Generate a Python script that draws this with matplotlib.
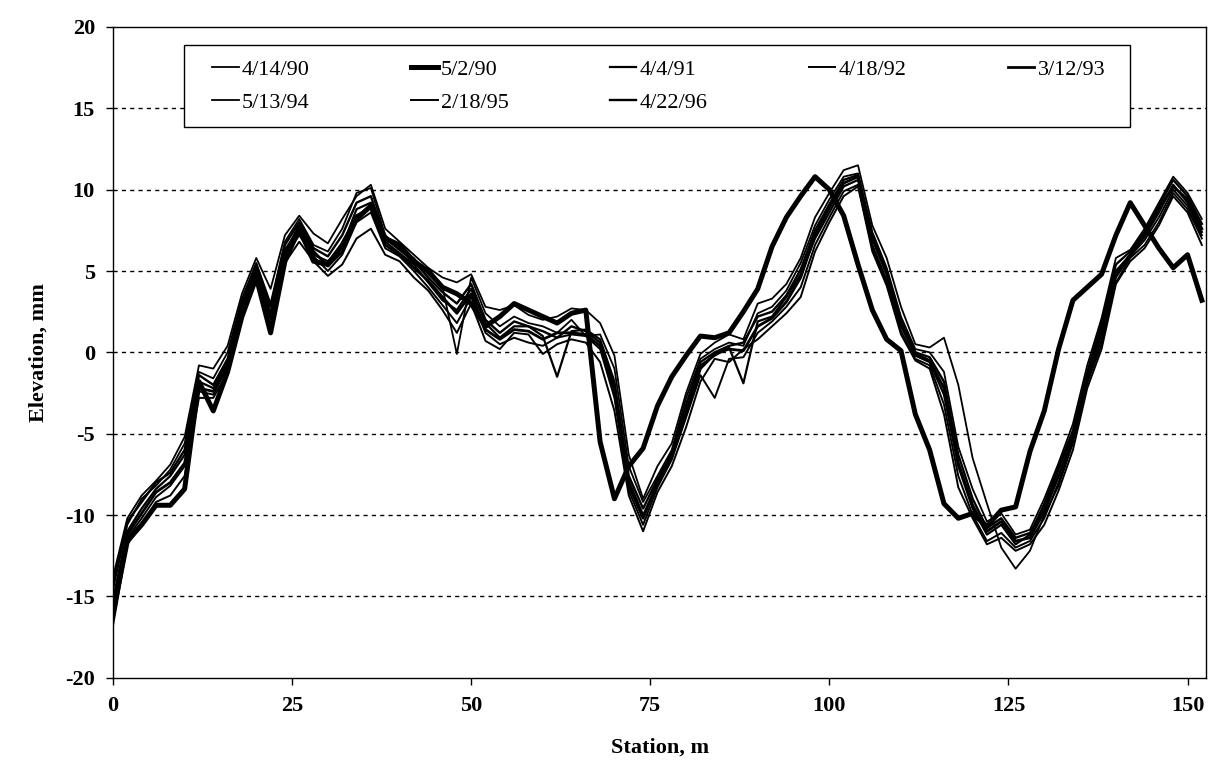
import numpy as np
import matplotlib.pyplot as plt
from matplotlib.patches import Rectangle

plt.rcParams['font.family'] = ['Liberation Serif', 'DejaVu Serif']
plt.rcParams['axes.unicode_minus'] = False

# station, m (2 m step)
station = np.arange(0, 153, 2)

# elevation profiles, mm
s_041490 = [-13.8, -10.2, -8.8, -7.9, -6.9, -5.2, -0.8, -1.0, 0.4, 3.6,
            5.8, 3.9, 7.2, 8.4, 7.3, 6.7, 8.2, 9.6, 10.3, 7.6,
            6.8, 6.0, 5.2, 4.6, 4.3, 4.8, 2.8, 2.6, 2.9, 2.3,
            2.0, 2.2, 2.7, 2.6, 1.8, -0.2, -6.3, -9.0, -7.0, -5.6,
            -2.5, -0.1, 0.6, 1.1, 0.8, 3.0, 3.3, 4.2, 5.8, 8.3,
            9.8, 11.2, 11.5, 7.8, 5.8, 2.8, 0.5, 0.3, 0.9, -2.0,
            -6.5, -9.3, -12.0, -13.3, -12.2, -10.0, -8.2, -5.6, -1.8, 0.8,
            4.3, 5.8, 6.6, 8.0, 9.8, 8.8, 7.0]
s_050290 = [-16.0, -11.6, -10.6, -9.4, -9.4, -8.4, -1.8, -3.6, -1.2, 2.2,
            4.6, 1.2, 5.6, 7.6, 5.6, 5.4, 6.6, 8.2, 9.0, 7.0,
            6.6, 5.6, 5.0, 4.0, 3.6, 3.0, 1.6, 2.2, 3.0, 2.6,
            2.2, 1.8, 2.4, 2.6, -5.5, -9.0, -7.0, -5.9, -3.3, -1.5,
            -0.2, 1.0, 0.9, 1.2, 2.5, 3.9, 6.5, 8.3, 9.6, 10.8,
            10.0, 8.4, 5.4, 2.6, 0.8, 0.1, -3.8, -6.0, -9.3, -10.2,
            -9.9, -10.7, -9.7, -9.5, -6.1, -3.6, 0.2, 3.2, 4.0, 4.8,
            7.2, 9.2, 7.8, 6.4, 5.2, 6.0, 3.2]
s_040491 = [-15.2, -11.0, -9.6, -8.4, -7.6, -6.3, -1.8, -2.2, -0.6, 2.9,
            5.2, 2.4, 6.3, 7.6, 6.0, 5.6, 6.5, 8.8, 9.2, 6.8,
            6.1, 5.4, 4.3, 3.2, 2.6, 3.9, 1.8, 0.9, 1.6, 1.6,
            1.0, -1.5, 1.3, 1.4, 0.8, -1.8, -7.9, -10.0, -8.1, -6.3,
            -3.6, -0.8, -0.2, 0.3, -1.9, 1.9, 2.2, 3.4, 4.8, 7.0,
            8.6, 10.2, 10.6, 6.6, 4.4, 1.6, -0.2, -0.6, -2.6, -7.0,
            -9.6, -11.2, -10.6, -11.8, -11.2, -9.3, -7.0, -4.8, -1.4, 1.5,
            5.0, 6.0, 7.1, 8.6, 10.3, 9.2, 7.4]
s_041892 = [-16.8, -11.8, -10.6, -9.2, -8.8, -7.6, -2.8, -2.8, -1.2, 2.4,
            4.6, 1.6, 5.5, 6.8, 5.6, 4.7, 5.4, 7.0, 7.6, 6.0,
            5.6, 4.6, 3.8, 2.6, 1.2, 3.0, 0.7, 0.2, 1.2, 1.1,
            -0.1, 0.5, 0.8, 0.6, -0.6, -3.6, -8.8, -11.0, -8.6, -7.0,
            -4.6, -1.8, -0.4, -0.6, 0.2, 0.8, 1.6, 2.4, 3.4, 6.2,
            8.0, 9.6, 10.2, 6.2, 4.1, 1.1, -0.5, -1.0, -3.8, -8.3,
            -10.2, -11.8, -11.4, -12.2, -11.8, -10.6, -8.5, -6.0, -2.2, 0.2,
            4.2, 5.6, 6.4, 7.8, 9.6, 8.6, 6.6]
s_031293 = [-15.6, -11.2, -9.9, -8.6, -8.0, -6.8, -2.2, -2.4, -0.8, 2.8,
            5.0, 2.2, 6.1, 7.8, 6.2, 5.3, 6.2, 8.4, 8.9, 6.6,
            6.0, 5.2, 4.4, 3.4, 2.4, 3.6, 1.4, 0.8, 1.4, 1.3,
            0.8, 1.2, 1.2, 1.1, 0.4, -2.4, -8.2, -10.2, -8.0, -6.4,
            -3.8, -1.0, -0.1, 0.2, 0.1, 1.6, 2.1, 3.1, 4.6, 7.2,
            8.9, 10.4, 10.8, 7.0, 4.8, 1.8, -0.1, -0.5, -2.2, -6.8,
            -9.4, -11.0, -10.4, -11.6, -11.4, -9.8, -7.6, -5.2, -1.6, 1.2,
            4.8, 6.0, 7.2, 8.8, 10.2, 9.4, 7.6]
s_051394 = [-14.6, -10.6, -9.0, -8.2, -7.2, -5.6, -1.2, -1.6, 0.0, 3.3,
            5.5, 3.0, 6.8, 8.2, 6.6, 6.2, 7.6, 9.8, 10.1, 7.2,
            6.4, 5.8, 4.8, 4.0, -0.1, 4.6, 2.4, 1.6, 2.2, 1.8,
            1.6, 1.2, 2.0, 1.0, 1.1, -1.0, -7.0, -9.2, -7.6, -6.0,
            -2.8, -0.4, 0.2, 0.6, 0.4, 2.4, 2.8, 3.8, 5.5, 7.8,
            9.4, 10.8, 11.0, 7.4, 5.2, 2.2, 0.2, 0.0, -1.2, -5.8,
            -8.4, -10.4, -9.9, -11.2, -10.9, -9.0, -6.8, -4.4, -0.8, 2.1,
            5.8, 6.3, 7.6, 9.2, 10.8, 9.8, 8.2]
s_021895 = [-16.2, -11.4, -10.2, -8.9, -8.2, -7.0, -2.4, -2.6, -0.9, 2.6,
            4.9, 2.0, 5.9, 7.2, 5.9, 5.0, 6.0, 8.0, 8.6, 6.4,
            5.9, 5.0, 4.0, 2.9, 1.8, 3.4, 1.2, 0.5, 0.9, 0.6,
            0.4, 0.9, 1.1, 1.0, 0.2, -2.8, -8.5, -10.6, -8.3, -6.6,
            -4.0, -1.4, -2.8, -0.4, -0.3, 1.2, 1.9, 2.8, 4.0, 6.6,
            8.3, 9.9, 10.3, 6.4, 4.2, 1.3, -0.4, -0.8, -3.2, -7.6,
            -10.0, -11.6, -11.1, -12.0, -11.6, -10.2, -8.0, -5.4, -1.9, 0.5,
            4.6, 5.9, 6.9, 8.3, 10.0, 9.0, 7.2]
s_042296 = [-14.2, -10.4, -9.2, -8.0, -7.4, -6.0, -1.4, -2.0, -0.4, 3.0,
            5.4, 2.8, 6.6, 8.0, 6.4, 5.9, 7.2, 9.2, 9.6, 7.0,
            6.3, 5.6, 4.6, 3.7, 3.0, 4.2, 2.0, 1.2, 1.9, 1.6,
            1.3, 0.9, 1.6, 1.3, 0.6, -2.0, -7.6, -9.6, -7.8, -6.2,
            -3.2, -0.6, 0.0, 0.4, 0.6, 2.2, 2.5, 3.5, 5.1, 7.5,
            9.1, 10.6, 10.9, 7.2, 5.0, 2.0, 0.0, -0.3, -1.8, -6.3,
            -9.0, -10.8, -10.2, -11.4, -11.1, -9.6, -7.2, -4.9, -1.2, 1.8,
            5.4, 6.2, 7.4, 9.0, 10.6, 9.6, 7.9]

labels = ['4/14/90', '5/2/90', '4/4/91', '4/18/92', '3/12/93',
          '5/13/94', '2/18/95', '4/22/96']
series = [s_041490, s_050290, s_040491, s_041892, s_031293,
          s_051394, s_021895, s_042296]
widths = [1.3, 3.6, 1.6, 1.4, 2.0, 1.3, 1.4, 1.7]

fig = plt.figure(figsize=(12.11, 7.71), dpi=100)
ax = fig.add_axes([0.0933, 0.121, 0.9027, 0.844])

lines = {}
for lab, ys, w in zip(labels, series, widths):
    ln, = ax.plot(station, ys, color='k', linewidth=w, label=lab,
                  solid_joinstyle='round')
    lines[lab] = ln

ax.set_xlim(0, 152.6)
ax.set_ylim(-20, 20)
ax.set_xticks(np.arange(0, 151, 25))
ax.set_yticks(np.arange(-20, 21, 5))
for y in range(-15, 20, 5):
    ax.axhline(y, color='k', linewidth=1.0, linestyle=(0, (3, 3)), zorder=0)

for sp in ax.spines.values():
    sp.set_linewidth(1.0)
ax.tick_params(direction='out', length=5, width=1, labelsize=16, pad=8)
for t in ax.get_xticklabels() + ax.get_yticklabels():
    t.set_fontweight('bold')

ax.set_xlabel('Station, m', fontsize=16, fontweight='bold', labelpad=16)
ax.set_ylabel('Elevation, mm', fontsize=16, fontweight='bold', labelpad=12)

# legend box, drawn separately so the entries can sit inside a wider frame
ax.add_patch(Rectangle((0.065, 0.846), 0.865, 0.126, transform=ax.transAxes,
                       facecolor='white', edgecolor='k', linewidth=1.0,
                       zorder=5))

# legend filled column-wise, so order entries to read row by row
order = ['4/14/90', '5/13/94', '5/2/90', '2/18/95', '4/4/91', '4/22/96',
         '4/18/92', '3/12/93']
leg = ax.legend([lines[k] for k in order], order, ncol=5, mode='expand',
                loc='center', bbox_to_anchor=(0.0906, 0.846, 0.817, 0.126),
                fontsize=16, frameon=False, handlelength=1.2,
                handletextpad=0.15, borderaxespad=0, borderpad=0,
                labelspacing=0.55)
leg.set_zorder(6)

fig.savefig('out.png', dpi=100)
